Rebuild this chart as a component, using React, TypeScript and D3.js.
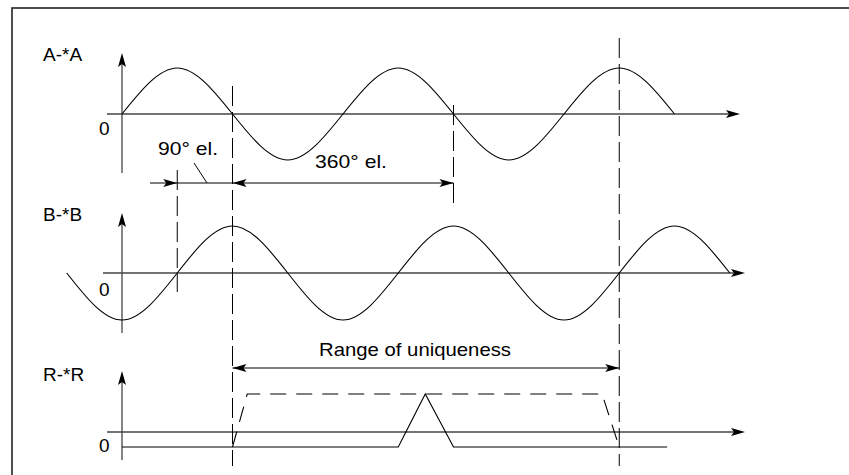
import * as d3 from "d3";
import React from "react";

// electrical angle (deg) -> normalised signal level
const angleA = [0, 90, 180, 270, 360, 450, 540, 630, 720, 810, 900];
const levelA = [0, 1, 0, -1, 0, 1, 0, -1, 0, 1, 0];
const angleB = [-90, 0, 90, 180, 270, 360, 450, 540, 630, 720, 810, 900, 990];
const levelB = [0, -1, 0, 1, 0, -1, 0, 1, 0, -1, 0, 1, 0];
// reference pulse R (solid) and the envelope of uniqueness (dashed)
const angleR = [0, 450, 494, 540, 888];
const levelR = [0, 0, 1, 0, 0];
const angleEnv = [180, 204, 782, 810];
const levelEnv = [0, 1, 1, 0];

// dashed guide lines (deg) and the dimensions drawn between them
const guides = [90, 180, 540, 810];
const dimPhase = [90, 180, 540];
const dimRange = [180, 810];

const font = "'Liberation Sans', Arial, Helvetica, sans-serif";

const Head: React.FC<{ x: number; y: number; dir: "r" | "l" | "u" }> = ({ x, y, dir }) => {
    const rot = dir === "r" ? 0 : dir === "l" ? 180 : -90;
    return <path d="M0,0 L-14,-4 L-11,0 L-14,4 Z" fill="#000" transform={`translate(${x},${y}) rotate(${rot})`} />;
};

const App: React.FC = () => {
    const width = 849, height = 475;
    const x = d3.scaleLinear().domain([0, 360]).range([122, 343]);
    const yA = d3.scaleLinear().domain([-1, 1]).range([160, 68]);
    const yB = d3.scaleLinear().domain([-1, 1]).range([320, 226]);
    const yR = d3.scaleLinear().domain([0, 1]).range([447, 394]);

    const lineOf = (ys: d3.ScaleLinear<number, number>, curve: d3.CurveFactory) =>
        d3.line<[number, number]>().x(d => x(d[0])).y(d => ys(d[1])).curve(curve);
    const zip = (a: number[], b: number[]) => a.map((v, i) => [v, b[i]] as [number, number]);

    const ox = x(0);
    const axes = [
        { y: yA(0), x0: 107, x1: 740, top: 53, bot: 173 },
        { y: yB(0), x0: 103, x1: 745, top: 213, bot: 333 },
        { y: 432, x0: 107, x1: 745, top: 371, bot: 460 },
    ];
    const guideSpan: Record<number, [number, number]> = { 90: [170, 292], 180: [86, 466], 540: [105, 205], 810: [38, 466] };
    const axisCol = "#444";

    return (
        <svg width={width} height={height} style={{ position: "absolute", left: 0, top: 0, background: "white" }}
            fontFamily={font}>
            <rect x={12} y={8} width={width} height={height} fill="none" stroke="#222" strokeWidth={1.6} />

            {axes.map((a, i) => (
                <g key={i}>
                    <line x1={a.x0} x2={a.x1 - 10} y1={a.y} y2={a.y} stroke={axisCol} strokeWidth={1.3} />
                    <Head x={a.x1} y={a.y} dir="r" />
                    <line x1={ox} x2={ox} y1={a.bot} y2={a.top + 10} stroke={axisCol} strokeWidth={1.3} />
                    <Head x={ox} y={a.top} dir="u" />
                </g>
            ))}

            {guides.map(g => (
                <line key={g} x1={x(g)} x2={x(g)} y1={guideSpan[g][0]} y2={guideSpan[g][1]}
                    stroke="#000" strokeWidth={1} strokeDasharray="20,6" />
            ))}

            <path d={lineOf(yA, d3.curveNatural)(zip(angleA, levelA))!} fill="none" stroke="#000" strokeWidth={1.1} />
            <path d={lineOf(yB, d3.curveNatural)(zip(angleB, levelB))!} fill="none" stroke="#000" strokeWidth={1.1} />
            <path d={lineOf(yR, d3.curveLinear)(zip(angleR, levelR))!} fill="none" stroke="#000" strokeWidth={1.1} />
            <path d={lineOf(yR, d3.curveLinear)(zip(angleEnv, levelEnv))!} fill="none" stroke="#000" strokeWidth={1.1}
                strokeDasharray="16,10" />

            {/* 90° / 360° dimension */}
            <line x1={150} x2={x(dimPhase[2])} y1={183} y2={183} stroke="#000" strokeWidth={1} />
            <Head x={x(dimPhase[0])} y={183} dir="r" />
            <Head x={x(dimPhase[1])} y={183} dir="l" />
            <Head x={x(dimPhase[2])} y={183} dir="r" />
            <line x1={194} y1={163} x2={207} y2={183} stroke="#000" strokeWidth={1} />

            {/* range of uniqueness */}
            <line x1={x(dimRange[0])} x2={x(dimRange[1])} y1={368} y2={368} stroke="#000" strokeWidth={1} />
            <Head x={x(dimRange[0])} y={368} dir="l" />
            <Head x={x(dimRange[1])} y={368} dir="r" />

            <g fontSize={19} fill="#000">
                <text x={43} y={61}>A-*A</text>
                <text x={43} y={221}>B-*B</text>
                <text x={43} y={381}>R-*R</text>
                <text x={99} y={135}>0</text>
                <text x={99} y={296}>0</text>
                <text x={99} y={452}>0</text>
                <text x={158} y={155} textLength={60} lengthAdjust="spacingAndGlyphs">90°  el.</text>
                <text x={315} y={168} textLength={72} lengthAdjust="spacingAndGlyphs">360°  el.</text>
                <text x={319} y={356} textLength={192} lengthAdjust="spacingAndGlyphs">Range of uniqueness</text>
            </g>
        </svg>
    );
};

export default App;
